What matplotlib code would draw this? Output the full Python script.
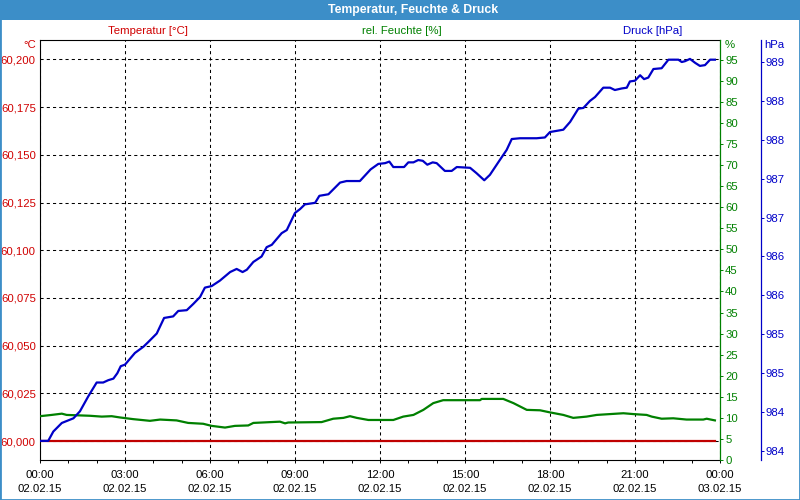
import matplotlib
matplotlib.use('Agg')
import matplotlib.pyplot as plt
import matplotlib.dates as mdates
import pandas as pd
from matplotlib.patches import Rectangle

plt.rcParams['font.family'] = ['Liberation Sans', 'DejaVu Sans']
plt.rcParams['font.size'] = 8.2

DAY = pd.Timestamp('2015-02-02')

# hours since midnight / measured values
temp_hours = [0.0, 6.0, 12.0, 18.0, 23.82]
temp_values = [60.000, 60.000, 60.000, 60.000, 60.000]

hum_hours = [0.00, 0.41, 0.77, 0.94, 1.76, 2.18, 2.53, 2.82, 3.29, 3.88, 4.24, 4.82,
             5.23, 5.76, 6.06, 6.53, 6.88, 7.35, 7.53, 8.47, 8.65, 8.76, 9.94, 10.35,
             10.71, 10.94, 11.18, 11.59, 12.47, 12.82, 13.18, 13.53, 13.88, 14.23, 15.53,
             15.59, 16.35, 16.71, 17.18, 17.65, 18.00, 18.47, 18.82, 19.29, 19.65, 20.12,
             20.59, 20.94, 21.41, 21.59, 21.94, 22.35, 22.82, 23.41, 23.53, 23.82]
hum_values = [10.4, 10.7, 11.0, 10.7, 10.5, 10.3, 10.4, 10.1, 9.7, 9.3, 9.6, 9.4,
              8.8, 8.6, 8.1, 7.7, 8.1, 8.2, 8.8, 9.1, 8.7, 8.9, 9.0, 9.8,
              10.0, 10.4, 10.0, 9.5, 9.5, 10.3, 10.7, 11.9, 13.5, 14.2, 14.2,
              14.5, 14.5, 13.5, 11.9, 11.8, 11.3, 10.7, 10.0, 10.3, 10.7, 10.9,
              11.1, 10.9, 10.7, 10.3, 9.8, 9.9, 9.6, 9.6, 9.8, 9.4]

press_hours = [0.00, 0.29, 0.47, 0.77, 1.18, 1.41, 1.70, 2.00, 2.23, 2.41, 2.59, 2.73,
               2.85, 3.00, 3.35, 3.65, 3.82, 4.12, 4.38, 4.70, 4.88, 5.18, 5.41, 5.65,
               5.82, 6.06, 6.35, 6.71, 6.94, 7.15, 7.30, 7.53, 7.82, 8.00, 8.18, 8.53,
               8.71, 9.00, 9.18, 9.35, 9.71, 9.86, 10.18, 10.59, 10.82, 11.29, 11.67,
               11.94, 12.18, 12.33, 12.47, 12.85, 13.00, 13.18, 13.35, 13.51, 13.67,
               13.86, 14.00, 14.29, 14.53, 14.71, 15.18, 15.41, 15.68, 15.88, 16.21,
               16.47, 16.65, 16.94, 17.53, 17.82, 18.00, 18.47, 18.71, 19.00, 19.18,
               19.41, 19.59, 19.88, 20.12, 20.29, 20.53, 20.71, 20.82, 21.00, 21.18,
               21.32, 21.47, 21.65, 21.94, 22.18, 22.53, 22.65, 22.76, 22.94, 23.12,
               23.29, 23.47, 23.65, 23.82]
press_values = [984.13, 984.13, 984.25, 984.36, 984.42, 984.51, 984.70, 984.88, 984.88,
                984.91, 984.93, 985.00, 985.09, 985.11, 985.26, 985.34, 985.40, 985.51,
                985.71, 985.73, 985.80, 985.81, 985.89, 985.98, 986.10, 986.12, 986.19,
                986.30, 986.34, 986.30, 986.33, 986.43, 986.50, 986.62, 986.65, 986.80,
                986.84, 987.06, 987.11, 987.17, 987.19, 987.28, 987.30, 987.45, 987.47,
                987.47, 987.62, 987.69, 987.70, 987.72, 987.65, 987.65, 987.71, 987.71,
                987.74, 987.73, 987.68, 987.71, 987.70, 987.60, 987.60, 987.65, 987.64,
                987.57, 987.48, 987.55, 987.73, 987.87, 988.01, 988.02, 988.02, 988.03,
                988.10, 988.13, 988.23, 988.40, 988.41, 988.50, 988.55, 988.67, 988.67,
                988.64, 988.66, 988.67, 988.75, 988.76, 988.83, 988.78, 988.80, 988.91,
                988.92, 989.03, 989.03, 989.00, 989.01, 989.04, 988.99, 988.95, 988.96,
                989.03, 989.03]

temp_ticks = [60.000, 60.025, 60.050, 60.075, 60.100, 60.125, 60.150, 60.175, 60.200]
hum_ticks = [0, 5, 10, 15, 20, 25, 30, 35, 40, 45, 50, 55, 60, 65, 70, 75, 80, 85, 90, 95]
press_ticks = [984.0, 984.5, 985.0, 985.5, 986.0, 986.5, 987.0, 987.5, 988.0, 988.5, 989.0]

RED = '#d00000'
GREEN = '#008000'
BLUE = '#0000c8'
BAR = '#3c8ec8'


def to_time(hours):
    return DAY + pd.to_timedelta(hours, unit='h')


def fig_xy(x, y):
    # pixel position -> figure fraction
    return x / 800, 1 - y / 500


fig = plt.figure(figsize=(8, 5), dpi=100, facecolor='white')
ax = fig.add_axes([40 / 800, 40 / 500, 680 / 800, 420 / 500])

# title bar and window frame
fig.patches.append(Rectangle((0, 1 - 20 / 500), 1, 20 / 500, transform=fig.transFigure,
                             facecolor=BAR, edgecolor='none', zorder=0))
fig.patches.append(Rectangle((0, 0), 1, 1, transform=fig.transFigure, fill=False,
                             edgecolor=BAR, lw=2, zorder=5))
fig.text(*fig_xy(413, 10), 'Temperatur, Feuchte & Druck', color='white',
         fontweight='bold', fontsize=8.8, ha='center', va='center')

# series captions
fig.text(*fig_xy(148, 31), 'Temperatur [°C]', color=RED, ha='center', va='center')
fig.text(*fig_xy(402, 31), 'rel. Feuchte [%]', color=GREEN, ha='center', va='center')
fig.text(*fig_xy(653, 31), 'Druck [hPa]', color=BLUE, ha='center', va='center')
fig.text(*fig_xy(36, 45), '°C', color=RED, ha='right', va='center')
fig.text(*fig_xy(725, 45), '%', color=GREEN, ha='left', va='center')
fig.text(*fig_xy(764, 45), 'hPa', color=BLUE, ha='left', va='center')

# temperature (main axis)
ax.plot(to_time(temp_hours), temp_values, color='#c00000', lw=1.6, zorder=3)
ax.set_ylim(59.99004, 60.21022)
ax.set_yticks(temp_ticks)
ax.set_yticklabels([f'{v:.3f}'.replace('.', ',') for v in temp_ticks])
ax.tick_params(axis='y', length=0, pad=3, labelcolor=RED)
ax.set_xlim(DAY, DAY + pd.Timedelta(days=1))
ax.xaxis.set_major_locator(mdates.HourLocator(byhour=range(0, 24, 3)))
ax.xaxis.set_minor_locator(mdates.HourLocator())
ax.xaxis.set_major_formatter(mdates.DateFormatter('%H:%M\n%d.%m.%y'))
ax.tick_params(axis='x', which='both', length=2.2, width=0.7, pad=5, color='black')
plt.setp(ax.get_xticklabels(), linespacing=1.5)
ax.grid(True, which='major', color='black', lw=0.75, linestyle=(0, (3, 3)))
ax.spines['right'].set_visible(False)
for s in ['left', 'top', 'bottom']:
    ax.spines[s].set_linewidth(0.8)

# humidity
axh = ax.twinx()
axh.plot(to_time(hum_hours), hum_values, color=GREEN, lw=1.6, zorder=3)
axh.set_ylim(0, 99.7)
axh.set_yticks(hum_ticks)
axh.tick_params(axis='y', length=2.2, width=0.7, pad=1.5, color=GREEN, labelcolor=GREEN)
axh.spines['right'].set_color(GREEN)
axh.spines['right'].set_linewidth(0.9)
for s in ['left', 'top', 'bottom']:
    axh.spines[s].set_visible(False)

# pressure
axp = ax.twinx()
axp.plot(to_time(press_hours), press_values, color=BLUE, lw=1.6, zorder=3)
axp.set_ylim(983.884, 989.283)
axp.set_yticks(press_ticks)
axp.set_yticklabels([str(int(v)) for v in press_ticks])
axp.spines['right'].set_position(('axes', 1 + 40.7 / 680))
axp.spines['right'].set_color(BLUE)
axp.spines['right'].set_linewidth(0.9)
axp.tick_params(axis='y', length=2, width=0.7, pad=1.5, color=BLUE, labelcolor=BLUE)
for s in ['left', 'top', 'bottom']:
    axp.spines[s].set_visible(False)

fig.savefig('out.png', dpi=100)
